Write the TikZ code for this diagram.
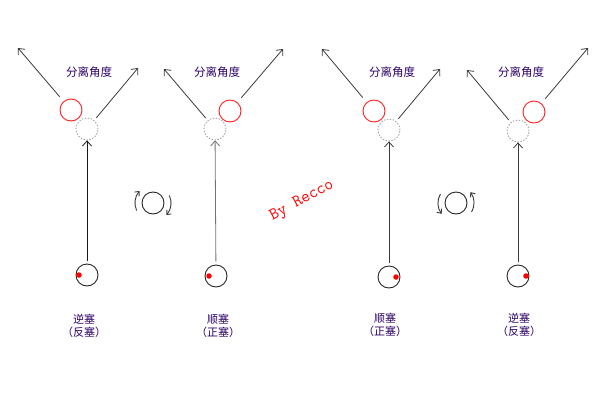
\documentclass[tikz,border=0pt]{standalone}
\usepackage{fontspec}
\newfontfamily\cjk{Noto Sans CJK SC}
\usetikzlibrary{arrows.meta}
\definecolor{txtc}{HTML}{2A0066}
\definecolor{linec}{HTML}{3A3A3A}
\definecolor{redc}{HTML}{FF2020}
\tikzset{
  redball/.style={circle,draw=redc,line width=0.9pt,minimum size=22pt,inner sep=0pt},
  ghost/.style={circle,draw=gray!80,line width=0.8pt,dash pattern=on 1.4pt off 1.6pt,minimum size=22pt,inner sep=0pt},
  cueball/.style={circle,draw=black!85,line width=0.9pt,minimum size=22pt,inner sep=0pt},
  spot/.style={circle,fill=red,inner sep=0pt,minimum size=5.5pt},
  arr/.style={draw=linec,line width=0.8pt,-{Straight Barb[length=5pt,width=9pt]}},
  rarr/.style={draw=linec,line width=0.9pt,-{Straight Barb[length=3.5pt,width=6pt]}},
  angtxt/.style={text=txtc,font=\cjk\fontsize{11.5}{13}\selectfont},
  lbl/.style={text=txtc,font=\cjk\fontsize{11}{12.5}\selectfont,align=center},
}
\begin{document}
\begin{tikzpicture}[x=1pt,y=-1pt]
\useasboundingbox (0,0) rectangle (600,400);
% ---------- panel 1 ----------
\node[redball] (r1) at (71,110) {};
\node[ghost] (g1) at (87,129) {};
\coordinate (tl1) at (18,48);
\coordinate (tr1) at (138,68);
\draw[arr,shorten <=6pt] (r1) -- (tl1);
\draw[arr,shorten <=3pt] (g1) -- (tr1);
\node[angtxt] (t1) at (89,72) {分离角度};
\node[cueball] (b1) at (87,275) {};
\node[spot] (d1) at (79,275) {};
\draw[arr,draw=black!90,shorten <=3pt] (b1) -- (g1);
\node[lbl] (l1) at (84,326) {逆塞\\（反塞）};
% ---------- panel 2 ----------
\node[redball] (r2) at (230,111) {};
\node[ghost] (g2) at (215,129) {};
\coordinate (tl2) at (164,69);
\coordinate (tr2) at (283,49);
\draw[arr,shorten <=3pt] (g2) -- (tl2);
\draw[arr,shorten <=6pt] (r2) -- (tr2);
\node[angtxt] (t2) at (217,72) {分离角度};
\node[cueball] (b2) at (216,276) {};
\node[spot] (d2) at (209,276) {};
\draw[arr,draw=gray!90!black,shorten <=3pt] (b2) -- (g2);
\node[lbl] (l2) at (218,326) {顺塞\\（正塞）};
% ---------- panel 3 ----------
\node[redball] (r3) at (374,111) {};
\node[ghost] (g3) at (389,130) {};
\coordinate (tl3) at (322,49);
\coordinate (tr3) at (440,69);
\draw[arr,shorten <=6pt] (r3) -- (tl3);
\draw[arr,shorten <=3pt] (g3) -- (tr3);
\node[angtxt] (t3) at (392,72) {分离角度};
\node[cueball] (b3) at (389,277) {};
\node[spot] (d3) at (396,277) {};
\draw[arr,shorten <=3pt] (b3) -- (g3);
\node[lbl] (l3) at (385,325) {顺塞\\（正塞）};
% ---------- panel 4 ----------
\node[redball] (r4) at (534,112) {};
\node[ghost] (g4) at (518,131) {};
\coordinate (tl4) at (467,70);
\coordinate (tr4) at (588,48);
\draw[arr,shorten <=3pt] (g4) -- (tl4);
\draw[arr,shorten <=6pt] (r4) -- (tr4);
\node[angtxt] (t4) at (521,72) {分离角度};
\node[cueball] (b4) at (518,276) {};
\node[spot] (d4) at (526,276) {};
\draw[arr,shorten <=3pt] (b4) -- (g4);
\node[lbl] (l4) at (519,325) {逆塞\\（反塞）};
% ---------- rotation icons ----------
\node[cueball] (rot1) at (153,203) {};
\draw[rarr] (rot1.center) ++(205:18pt) arc[start angle=205,end angle=138,radius=18pt];
\draw[rarr] (rot1.center) ++(25:18pt) arc[start angle=25,end angle=-42,radius=18pt];
\node[cueball] (rot2) at (456,203) {};
\draw[rarr] (rot2.center) ++(150:18pt) arc[start angle=150,end angle=217,radius=18pt];
\draw[rarr] (rot2.center) ++(-30:18pt) arc[start angle=-30,end angle=37,radius=18pt];
% ---------- signature ----------
\node[text=red,font=\ttfamily\fontsize{17}{17}\selectfont,rotate=28] (sig) at (302,201) {By Recco};
\end{tikzpicture}
\end{document}
